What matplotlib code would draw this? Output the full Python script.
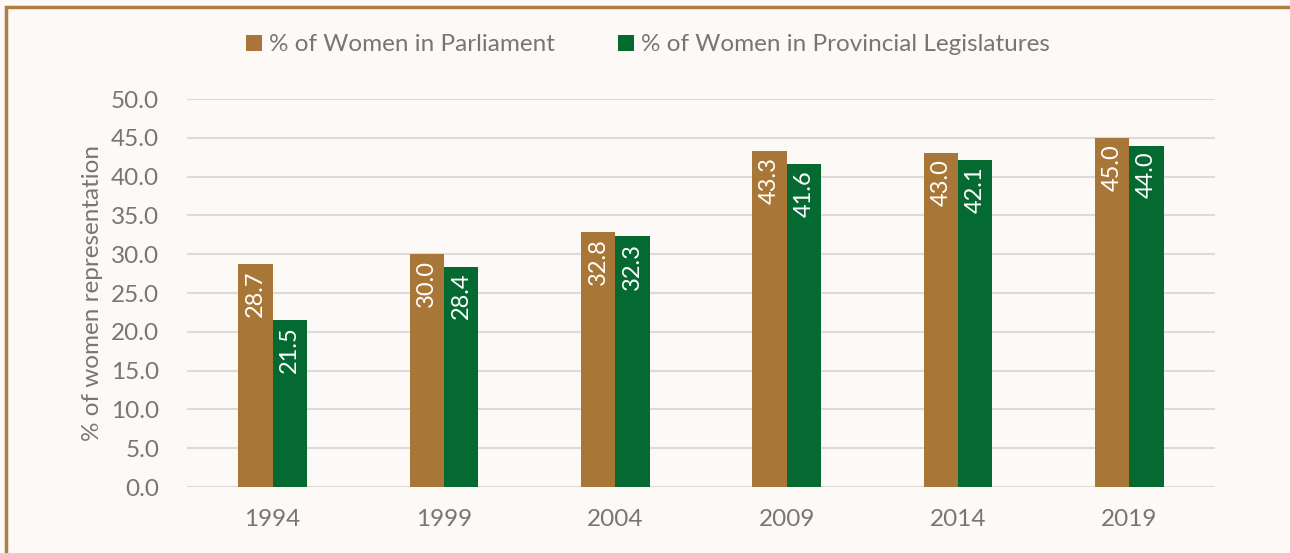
import numpy as np
import matplotlib.pyplot as plt
from matplotlib.patches import Rectangle

years = ['1994', '1999', '2004', '2009', '2014', '2019']
parliament = [28.7, 30.0, 32.8, 43.3, 43.0, 45.0]
provincial = [21.5, 28.4, 32.3, 41.6, 42.1, 44.0]
series_names = ['% of Women in Parliament', '% of Women in Provincial Legislatures']

brown = '#A87737'
green = '#056A31'
grey = '#767676'

plt.rcParams['font.family'] = ['Lato', 'DejaVu Sans']

fig = plt.figure(figsize=(12.9, 5.53), dpi=100, facecolor='#FDF9F7')
ax = fig.add_axes([187 / 1290, 1 - 487 / 553, 1028 / 1290, 388 / 553])
ax.set_facecolor('none')

# brown frame around the chart
fig.patches.append(Rectangle((6 / 1290, -0.1), 1.2, (553 - 7) / 553 + 0.1,
                             transform=fig.transFigure, fill=False,
                             edgecolor='#B07E45', linewidth=2.5))

x = np.arange(len(years))
w = 0.2
b1 = ax.bar(x - w / 2, parliament, w, color=brown, label=series_names[0], zorder=3)
b2 = ax.bar(x + w / 2, provincial, w, color=green, label=series_names[1], zorder=3)

for bars in (b1, b2):
    for r in bars:
        h = r.get_height()
        ax.text(r.get_x() + r.get_width() / 2, h - 0.8, f'{h:.1f}',
                rotation=90, ha='center', va='top', color='white', fontsize=17, zorder=4)

ax.set_xlim(-0.5, len(years) - 0.5)
ax.set_ylim(0, 50)
ax.set_yticks(np.arange(0, 50.1, 5))
ax.set_yticklabels([f'{v:.1f}' for v in np.arange(0, 50.1, 5)])
ax.set_xticks(x)
ax.set_xticklabels(years)
ax.tick_params(axis='both', length=0, labelsize=17.5, labelcolor=grey)
ax.tick_params(axis='y', pad=20)
ax.tick_params(axis='x', pad=16)
ax.grid(axis='y', color='#DDDBDA', linewidth=1.5, zorder=0)
for s in ax.spines.values():
    s.set_visible(False)

ax.set_ylabel('% of women representation', fontsize=17.5, color=grey, labelpad=6)

fig.legend(loc='center', bbox_to_anchor=(648 / 1290, 1 - 45 / 553), ncol=2,
           frameon=False, fontsize=17.5, labelcolor=grey, handlelength=0.65,
           handleheight=0.65, handletextpad=0.3, columnspacing=2.6)

fig.savefig('out.png', dpi=100, facecolor=fig.get_facecolor())
